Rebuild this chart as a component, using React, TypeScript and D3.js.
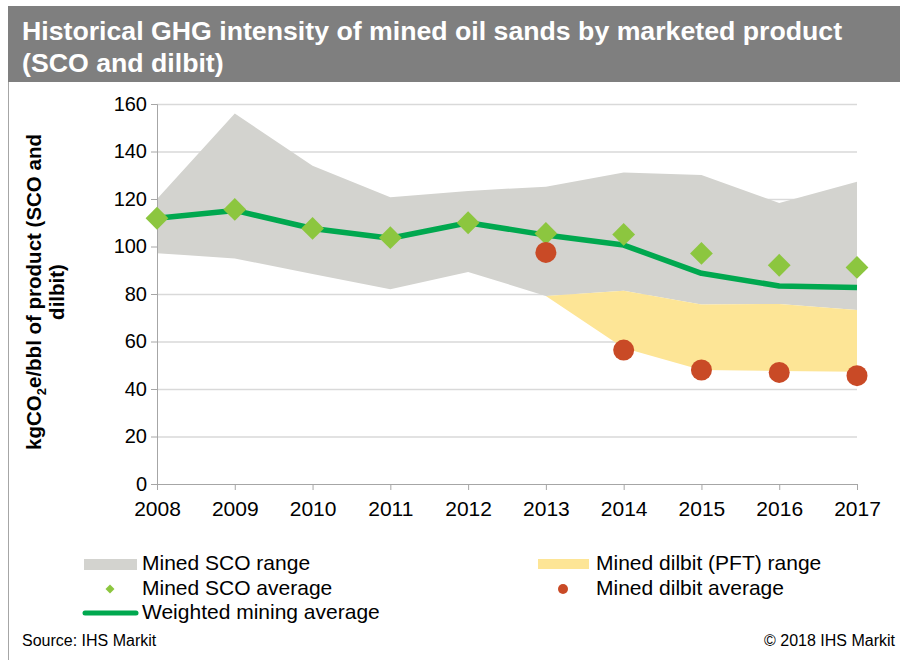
import React, { useRef, useEffect } from "react";
import * as d3 from "d3";

const years = ["2008", "2009", "2010", "2011", "2012", "2013", "2014", "2015", "2016", "2017"];
const scoRangeHigh = [120, 156, 134, 120.7, 123.4, 125.2, 131.2, 130.1, 118.3, 127.3];
const scoRangeLow = [97.2, 95, 88.4, 82, 89.3, 79.2, 81.4, 75.6, 75.8, 73.3];
const dilbitYears = ["2013", "2014", "2015", "2016", "2017"];
const dilbitRangeHigh = [79.2, 81.4, 75.6, 75.8, 73.3];
const dilbitRangeLow = [79.2, 57.3, 48, 47.6, 47.3];
const scoAverage = [111.9, 115.6, 107.6, 103.7, 110, 105.5, 105.1, 97.1, 92.1, 91.2];
const weightedAverage = [111.9, 115.2, 107.6, 103.5, 110, 104.8, 100.6, 88.7, 83.4, 82.7];
const dilbitAverage = [97.5, 56.4, 48, 47, 45.6];
const yTicks = [0, 20, 40, 60, 80, 100, 120, 140, 160];

const FONT = "'Liberation Sans', Arial, sans-serif";
const C_GRAY = "#d3d3cf";
const C_YELLOW = "#fde596";
const C_LINE = "#00a84f";
const C_DIAMOND = "#8cc63f";
const C_RED = "#c94a26";

export default function App() {
  const svgRef = useRef<SVGSVGElement>(null);
  const width = 900;
  const height = 660;
  const marginLeft = 157;
  const marginRight = 43;
  const marginTop = 104;
  const plotBottom = 484;

  useEffect(() => {
    const svg = d3.select(svgRef.current);
    svg.selectAll("*").remove();

    const x = d3.scalePoint().domain(years).range([marginLeft, width - marginRight]);
    const y = d3.scaleLinear().domain([0, 160]).range([plotBottom, marginTop]);

    // banner + frame
    svg.append("rect").attr("x", 8).attr("y", 6).attr("width", width - 8).attr("height", 76).attr("fill", "#7f7f7f");
    svg.append("line").attr("x1", 8.5).attr("x2", 8.5).attr("y1", 82).attr("y2", height)
      .attr("stroke", "#a6a6a6").attr("stroke-width", 1);
    const title = svg.append("text").attr("fill", "#fff").attr("font-family", FONT)
      .attr("font-weight", "bold").attr("font-size", 26.7);
    title.append("tspan").attr("x", 22).attr("y", 40).text("Historical GHG intensity of mined oil sands by marketed product");
    title.append("tspan").attr("x", 22).attr("y", 72).text("(SCO and dilbit)");

    // gridlines
    svg.append("g").selectAll("line").data(yTicks.filter(d => d > 0)).join("line")
      .attr("x1", marginLeft).attr("x2", width - marginRight)
      .attr("y1", d => y(d) + 0.5).attr("y2", d => y(d) + 0.5)
      .attr("stroke", "#d9d9d9").attr("stroke-width", 1.5);

    // SCO range
    const scoArea = d3.area<number>()
      .x((_, i) => x(years[i])!)
      .y0((_, i) => y(scoRangeLow[i]))
      .y1(d => y(d));
    svg.append("path").datum(scoRangeHigh).attr("d", scoArea).attr("fill", C_GRAY);

    // dilbit range
    const dilArea = d3.area<number>()
      .x((_, i) => x(dilbitYears[i])!)
      .y0((_, i) => y(dilbitRangeLow[i]))
      .y1(d => y(d));
    svg.append("path").datum(dilbitRangeHigh).attr("d", dilArea).attr("fill", C_YELLOW);

    // axes
    const yAxis = svg.append("g").attr("transform", `translate(${marginLeft},0)`)
      .call(d3.axisLeft(y).tickValues(yTicks).tickSize(6).tickPadding(4));
    yAxis.select(".domain").attr("stroke", "#a6a6a6");
    yAxis.selectAll(".tick line").attr("stroke", "#a6a6a6");
    yAxis.selectAll("text").attr("font-family", FONT).attr("font-size", 20).attr("fill", "#000");

    const xAxis = svg.append("g").attr("transform", `translate(0,${plotBottom})`)
      .call(d3.axisBottom(x).tickSize(6).tickSizeOuter(0).tickPadding(11));
    xAxis.select(".domain").attr("stroke", "#a6a6a6").attr("d", `M${marginLeft - 6},0.5H${width - marginRight}`);
    xAxis.selectAll(".tick line").attr("stroke", "#a6a6a6");
    xAxis.selectAll("text").attr("font-family", FONT).attr("font-size", 21).attr("fill", "#000");

    // weighted average line
    const line = d3.line<number>().x((_, i) => x(years[i])!).y(d => y(d));
    svg.append("path").datum(weightedAverage).attr("d", line).attr("fill", "none")
      .attr("stroke", C_LINE).attr("stroke-width", 5.5).attr("stroke-linejoin", "round");

    // SCO average diamonds
    const diamond = d3.symbol().type(d3.symbolSquare).size(260);
    svg.append("g").selectAll("path").data(scoAverage).join("path")
      .attr("d", diamond)
      .attr("transform", (d, i) => `translate(${x(years[i])},${y(d)}) rotate(45)`)
      .attr("fill", C_DIAMOND);

    // dilbit average circles
    svg.append("g").selectAll("circle").data(dilbitAverage).join("circle")
      .attr("cx", (_, i) => x(dilbitYears[i])!).attr("cy", d => y(d)).attr("r", 10.5)
      .attr("fill", C_RED);

    // y axis title
    const yt = svg.append("text").attr("transform", "translate(0,292) rotate(-90)")
      .attr("text-anchor", "middle").attr("font-family", FONT).attr("font-weight", "bold")
      .attr("font-size", 20.5).attr("fill", "#000");
    const t1 = yt.append("tspan").attr("x", 0).attr("y", 41).text("kgCO");
    t1.append("tspan").attr("font-size", 13).attr("dy", 5).text("2");
    t1.append("tspan").attr("dy", -5).text("e/bbl of product (SCO and");
    yt.append("tspan").attr("x", 0).attr("y", 64).text("dilbit)");

    // legend
    const lg = svg.append("g").attr("font-family", FONT).attr("font-size", 21).attr("fill", "#000");
    lg.append("rect").attr("x", 84).attr("y", 559).attr("width", 53).attr("height", 11).attr("fill", C_GRAY);
    lg.append("text").attr("x", 142).attr("y", 570).text("Mined SCO range");
    lg.append("path").attr("d", d3.symbol().type(d3.symbolSquare).size(40))
      .attr("transform", "translate(110,589) rotate(45)").attr("fill", C_DIAMOND);
    lg.append("text").attr("x", 142).attr("y", 595).text("Mined SCO average");
    lg.append("line").attr("x1", 85).attr("x2", 136).attr("y1", 613).attr("y2", 613)
      .attr("stroke", C_LINE).attr("stroke-width", 5).attr("stroke-linecap", "round");
    lg.append("text").attr("x", 142).attr("y", 619).text("Weighted mining average");
    lg.append("rect").attr("x", 538).attr("y", 559).attr("width", 51).attr("height", 10).attr("fill", C_YELLOW);
    lg.append("text").attr("x", 596).attr("y", 570).text("Mined dilbit (PFT) range");
    lg.append("circle").attr("cx", 563).attr("cy", 589).attr("r", 5).attr("fill", C_RED);
    lg.append("text").attr("x", 596).attr("y", 595).text("Mined dilbit average");

    // footer
    svg.append("text").attr("x", 22).attr("y", 646).attr("font-family", FONT).attr("font-size", 16)
      .text("Source: IHS Markit");
    svg.append("text").attr("x", 895).attr("y", 646).attr("text-anchor", "end").attr("font-family", FONT)
      .attr("font-size", 16).text("© 2018 IHS Markit");
  }, []);

  return (
    <svg ref={svgRef} width={width} height={height}
      style={{ position: "absolute", left: 0, top: 0, background: "#fff" }} />
  );
}
